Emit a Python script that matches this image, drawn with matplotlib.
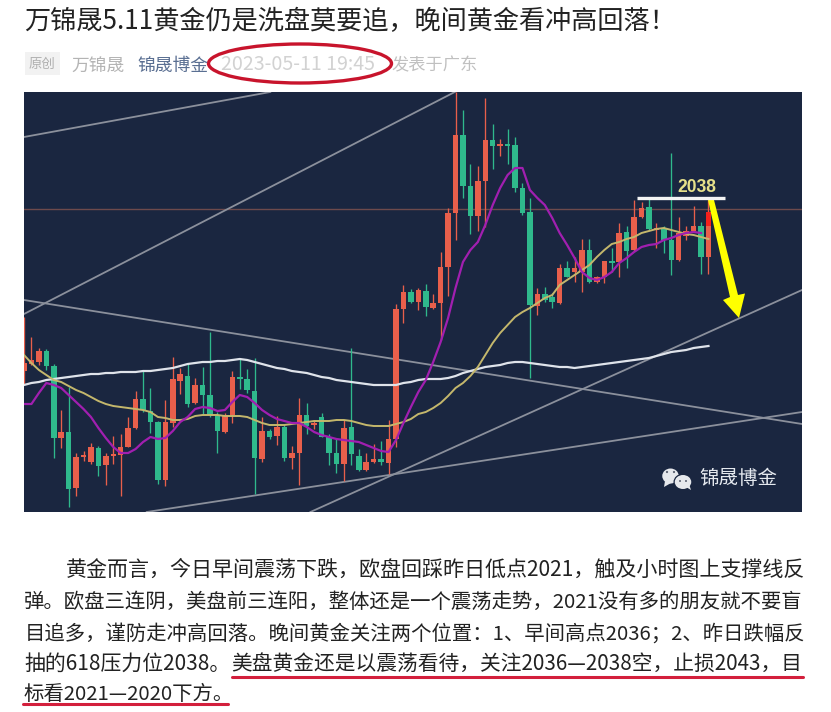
import matplotlib
matplotlib.use("Agg")
import matplotlib.pyplot as plt
import numpy as np
from matplotlib.patches import Ellipse, Polygon, Rectangle

plt.rcParams['font.family'] = ['Noto Sans CJK SC', 'DejaVu Sans']

# Candle data. The chart has no price axis, so values are
# given as vertical chart positions (rows); smaller = higher price.
body_top = [363,360,351,351,366,432,432,457,455,447,448,456,454,447,428,399,399,411,422,422,379,374,376,385,385,395,416,415,377,377,379,391,431,431,427,427,453,
            415,415,423,417,437,453,428,427,456,462,459,459,439,309,292,292,290,291,303,267,213,135,135,186,181,140,140,144,144,145,188,212,294,294,297,268,268,268,250,250,277,261,261,233,232,217,208,207,228,228,240,233,231,226,226,212]
body_bot = [371,364,362,366,438,438,489,488,456,462,466,465,456,455,447,428,410,422,480,480,423,381,404,403,395,415,431,432,415,378,390,458,459,437,436,458,458,
            453,426,425,437,453,464,464,454,470,470,462,462,463,439,309,302,302,307,308,303,267,213,186,216,216,181,146,146,145,188,213,305,306,300,302,303,277,272,272,282,282,277,262,262,251,250,217,229,229,240,260,260,236,231,257,257]
wick_hi = [317,337,348,349,364,410,387,453,451,443,446,453,436,434,417,391,371,388,421,400,357,368,364,378,367,332,412,413,371,359,369,358,417,429,416,425,446,
           398,403,421,413,434,438,420,348,449,453,444,441,420,304,285,289,288,284,294,252,208,92,110,164,166,98,124,139,129,137,183,198,288,287,293,264,261,257,239,239,276,261,248,223,226,200,202,199,223,226,153,217,226,206,222,200]
wick_lo = [385,365,365,370,458,448,507,496,461,464,476,485,464,496,447,429,412,433,484,486,427,394,407,404,415,417,453,433,423,389,393,494,462,439,445,461,469,
           485,434,429,437,465,473,481,465,471,471,463,465,474,447,323,303,310,316,309,340,296,240,198,234,231,227,169,156,164,192,215,378,315,302,308,304,277,282,292,283,283,283,272,277,268,251,218,230,248,253,275,261,240,232,274,274]
candle_colors = ['r','r','r','g','g','r','g','r','r','r','g','r','r','r','r','r','g','g','g','r','r','r','g','r','g','g','g','r','r','g','g','g','r','g','r','g','r',
                 'r','g','r','g','g','g','r','g','g','r','r','g','r','r','r','g','r','g','r','r','r','r','g','g','r','r','g','r','g','g','g','g','r','g','g','r','g','r','r','g','r','r','g','r','g','r','r','g','r','g','g','r','r','r','g','r']

# Moving averages, one value per candle
ma_purple = [404,404,393,383,385,388,395,402,409,417,428,438,447,453,453,449,442,437,439,438,431,422,417,409,407,408,411,410,402,395,397,403,410,415,419,421,423,
             423,427,432,435,437,439,440,441,442,445,448,451,452,440,423,407,392,380,362,342,318,288,262,250,242,225,205,188,175,168,168,190,198,205,218,233,245,258,272,278,280,277,272,263,258,252,247,245,244,240,238,235,233,232,233]
ma_yellow = [355,363,370,375,380,382,386,390,393,397,401,404,406,407,408,409,410,412,417,418,420,420,419,416,415,415,415,416,416,416,417,420,423,425,425,425,424,
             423,422,421,421,421,420,420,421,423,425,426,426,426,424,422,419,414,412,408,403,396,388,383,376,367,355,343,333,325,317,312,308,303,298,295,285,280,275,270,265,257,250,244,242,239,237,233,231,229,228,230,232,234,235,237,239]
ma_white = [385,383,382,380,379,378,377,376,375,374,374,373,373,372,372,372,371,371,370,369,368,366,364,363,362,362,361,361,360,359,360,362,364,366,368,369,371,
            372,373,375,377,378,380,381,382,383,384,385,385,385,385,383,382,380,379,379,379,378,376,373,371,369,367,366,365,363,362,362,363,364,365,366,367,367,368,367,366,365,364,363,362,361,360,359,358,356,354,352,351,350,348,347,346]

# Trend lines: (start index, start row, end index, end row)
trend_lines = [(0,137,33.1,92),(0,314,57.9,92),(0,300,104.57,424),(16.5,512,104.57,412),(38.5,512,104.57,290)]
level_row = 209
level_label = "2038"

title = "万锦晟5.11黄金仍是洗盘莫要追，晚间黄金看冲高回落！"
tag = "原创"
author = "万锦晟"
account = "锦晟博金"
stamp = "2023-05-11 19:45"
place = "发表于广东"
para = [("黄金而言，今日早间震荡下跌，欧盘回踩昨日低点2021，触及小时图上支撑线反", 66, 806, 570),
        ("弹。欧盘三连阴，美盘前三连阳，整体还是一个震荡走势，2021没有多的朋友就不要盲", 24, 804, 602),
        ("目追多，谨防走冲高回落。晚间黄金关注两个位置：1、早间高点2036；2、昨日跌幅反", 25, 804, 634),
        ("抽的618压力位2038。", 24, 230, 664),
        ("美盘黄金还是以震荡看待，关注2036—2038空，止损2043，目", 231, 802, 664),
        ("标看2021—2020下方。", 24, 235, 695)]

BG = "#1a2640"
RED = "#e85f4b"
GREEN = "#2fb98c"

fig = plt.figure(figsize=(8.31, 7.12), dpi=100, facecolor="white")
ax = fig.add_axes([24/831, 1-512/712, 778/831, 420/712], facecolor=BG)
x = np.arange(len(body_top))
ax.set_xlim(0, 104.57)
ax.set_ylim(512, 92)
ax.set_xticks([]); ax.set_yticks([])
for s in ax.spines.values():
    s.set_visible(False)

ax.axhline(level_row, color="#6e4a4c", lw=1, zorder=1)
for x0, y0, x1, y1 in trend_lines:
    ax.plot([x0, x1], [y0, y1], color="#8b909c", lw=1.3, zorder=1)

cols = [RED if c == 'r' else GREEN for c in candle_colors]
ax.vlines(x, wick_hi, wick_lo, colors=cols, lw=0.95, zorder=2)
heights = np.maximum(np.array(body_bot) - np.array(body_top), 1.5)
ax.bar(x, heights, bottom=body_top, width=0.74, color=cols, lw=0, zorder=3)
ax.bar(x[-1], 14, bottom=body_top[-1], width=0.78, color="#f5201c", lw=0, zorder=3.5)

ax.plot(np.arange(len(ma_white)), ma_white, color="#dfe3ea", lw=1.6, zorder=4)
ax.plot(np.arange(len(ma_yellow)), ma_yellow, color="#c4b76c", lw=1.4, zorder=5)
ax.plot(np.arange(len(ma_purple)), ma_purple, color="#a11fb0", lw=1.6, zorder=6)

# overlay in pixel coordinates for the page text and hand-drawn annotations
ov = fig.add_axes([0, 0, 1, 1], facecolor="none")
ov.set_xlim(0, 831); ov.set_ylim(712, 0); ov.axis("off")

renderer = fig.canvas.get_renderer()

def fit(s, x0, x1, y, color="#222222", guess=14.4, **kw):
    t = ov.text(x0, y, s, color=color, fontsize=guess, va="center", ha="left", **kw)
    w = t.get_window_extent(renderer).width
    t.set_fontsize(guess * (x1 - x0) / w)
    return t

fit(title, 24, 676, 22, "#222222", 16.5)
ov.add_patch(Rectangle((25, 52), 35, 23, fc="#f2f2f2", ec="none"))
fit(tag, 29, 56, 64, "#b0b0b0", 9.5)
fit(author, 71, 124, 65.5, "#b4b4b4", 12)
fit(account, 137, 208, 65.5, "#5a6f92", 12)
fit(stamp, 221, 376, 65, "#d2d2d2", 12)
fit(place, 391, 477, 65.5, "#c0c0c0", 12)
ov.add_patch(Ellipse((300, 63.5), 183, 39, fc="none", ec="#c8142c", lw=2.4))

for s, x0, x1, y in para:
    fit(s, x0, x1, y, "#222222", 14.4)
ov.plot([232, 803], [676.5, 676.5], color="#d31f3c", lw=2.2, solid_capstyle="round")
ov.plot([23, 228], [704, 704], color="#d31f3c", lw=2.2, solid_capstyle="round")

# white resistance bar, label and yellow arrow
ov.plot([637, 725], [197.5, 197.5], color="#f4f4f4", lw=2.4, solid_capstyle="butt")
fit(level_label, 677, 716, 187, "#e6e08a", 13, family=["Liberation Sans"], fontweight="bold")
ov.add_patch(Polygon([(708, 200), (714, 200), (738, 295), (745, 293.5), (739, 318), (723, 300), (730, 297)],
                     closed=True, fc="#ffff00", ec="none"))

# watermark
ov.add_patch(Ellipse((670.5, 476), 16.5, 15, fc="#e6e8ec", ec="none"))
ov.add_patch(Polygon([(665, 481), (664, 487), (671, 483)], fc="#e6e8ec", ec="none"))
ov.add_patch(Ellipse((683, 482), 19, 16.5, fc=BG, ec="none"))
ov.add_patch(Ellipse((683, 482), 16.5, 14, fc="#e6e8ec", ec="none"))
ov.add_patch(Polygon([(686, 487), (691, 490), (689, 484)], fc="#e6e8ec", ec="none"))
for cx, cy, r in [(667, 472, 1.1), (674, 472, 1.1), (680, 481, 1), (686, 481, 1)]:
    ov.add_patch(Ellipse((cx, cy), 2*r, 2*r, fc="#5a6070", ec="none"))
fit("锦晟博金", 699, 777, 479, "#e4e8ee", 14)

fig.savefig("out.png", dpi=100)
